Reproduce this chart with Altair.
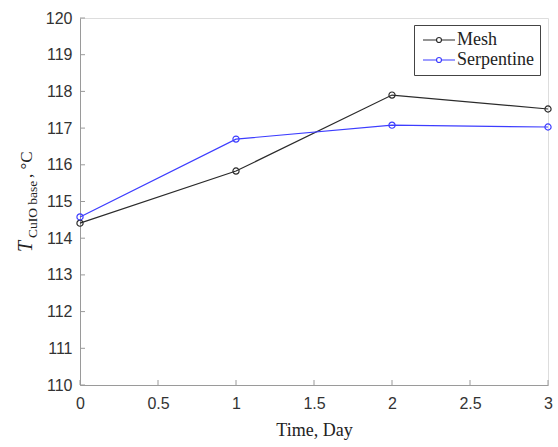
import altair as alt
import pandas as pd

# Measured base temperature over the test days
days = [0, 1, 2, 3]
mesh = [114.41, 115.83, 117.90, 117.52]
serpentine = [114.58, 116.70, 117.08, 117.03]
series_names = ["Mesh", "Serpentine"]
series_colors = ["#2b2b2b", "#3d3dff"]
x_ticks = [0, 0.5, 1, 1.5, 2, 2.5, 3]
y_ticks = [110, 111, 112, 113, 114, 115, 116, 117, 118, 119, 120]

df = pd.DataFrame({
    "day": days * 2,
    "temp": mesh + serpentine,
    "series": [series_names[0]] * len(days) + [series_names[1]] * len(days),
})

W, H = 468, 367
PAD_L, PAD_T = 80, 18
SANS = "Liberation Sans"
SERIF = "Liberation Serif"
AXIS_GRAY = "#9a9a9a"

x_scale = alt.Scale(domain=[0, 3], nice=False, zero=False)
y_scale = alt.Scale(domain=[110, 120], nice=False, zero=False)

x_axis = alt.Axis(values=x_ticks, title="Time, Day", ticks=False,
                  labelFont=SANS, labelFontSize=16, labelColor="#333",
                  labelPadding=10, labelOverlap=False, labelFlush=False,
                  domainColor=AXIS_GRAY,
                  titleFont=SERIF, titleFontSize=18, titleFontWeight="normal",
                  titleColor="#222", titlePadding=10, grid=False,
                  labelExpr="datum.value % 1 ? format(datum.value, '.1f') : format(datum.value, 'd')")
y_axis = alt.Axis(values=y_ticks, title=None, ticks=False,
                  labelFont=SANS, labelFontSize=16, labelColor="#333",
                  labelPadding=8, labelOverlap=False, labelFlush=False,
                  domainColor=AXIS_GRAY, grid=False)

# legend glyph: a line segment with a small open circle in the middle,
# drawn wider than its nominal square so rows stay compact
legend_symbol = ("M-3.2,0H-0.5M0.5,0H3.2"
                 "M0.5,0A0.5,0.5 0 1 1 -0.5,0A0.5,0.5 0 1 1 0.5,0")

lines = alt.Chart(df).mark_line(
    strokeWidth=1.2,
    point=alt.OverlayMarkDef(filled=False, size=38, strokeWidth=1.2),
).encode(
    x=alt.X("day:Q", scale=x_scale, axis=x_axis),
    y=alt.Y("temp:Q", scale=y_scale, axis=y_axis),
    color=alt.Color("series:N",
                    scale=alt.Scale(domain=series_names, range=series_colors),
                    legend=alt.Legend(title=None, orient="none", legendX=334, legendY=7,
                                      symbolType=legend_symbol, symbolSize=100,
                                      symbolOffset=10, symbolStrokeWidth=1.2,
                                      symbolFillColor="transparent",
                                      labelFont=SERIF, labelFontSize=18, labelColor="#222",
                                      labelOffset=9, rowPadding=2,
                                      padding=6, strokeColor="#444", fillColor="white",
                                      cornerRadius=0)),
)

# inward tick marks along both axes
xt = alt.Chart(pd.DataFrame({"v": x_ticks})).mark_rule(color=AXIS_GRAY, strokeWidth=1).encode(
    x=alt.X("v:Q", scale=x_scale, axis=x_axis), y=alt.value(H), y2=alt.value(H - 5))
yt = alt.Chart(pd.DataFrame({"v": y_ticks})).mark_rule(color=AXIS_GRAY, strokeWidth=1).encode(
    y=alt.Y("v:Q", scale=y_scale, axis=y_axis), x=alt.value(0), x2=alt.value(5))

# y-axis title with subscript, composed of rotated pieces
one = alt.Data(values=[{}])
t_main = alt.Chart(one).mark_text(angle=270, align="left", baseline="alphabetic",
                                  font=SERIF, fontSize=20, fontStyle="italic", color="#222").encode(
    x=alt.value(-48), y=alt.value(234), text=alt.value("T"))
t_sub = alt.Chart(one).mark_text(angle=270, align="left", baseline="alphabetic",
                                 font=SERIF, fontSize=13.5, color="#222").encode(
    x=alt.value(-43), y=alt.value(220), text=alt.value("CuIO base"))
t_unit = alt.Chart(one).mark_text(angle=270, align="left", baseline="alphabetic",
                                  font=SERIF, fontSize=17, color="#222").encode(
    x=alt.value(-48), y=alt.value(160), text=alt.value(", °C"))

chart = alt.layer(lines, xt, yt, t_main, t_sub, t_unit).properties(
    width=W, height=H,
    autosize=alt.AutoSizeParams(type="none"),
    padding={"left": PAD_L, "top": PAD_T, "right": 558 - PAD_L - W, "bottom": 447 - PAD_T - H},
).configure_view(stroke=None).configure(background="white")

chart.save("out.html", embed_options={"renderer": "svg", "actions": False})
